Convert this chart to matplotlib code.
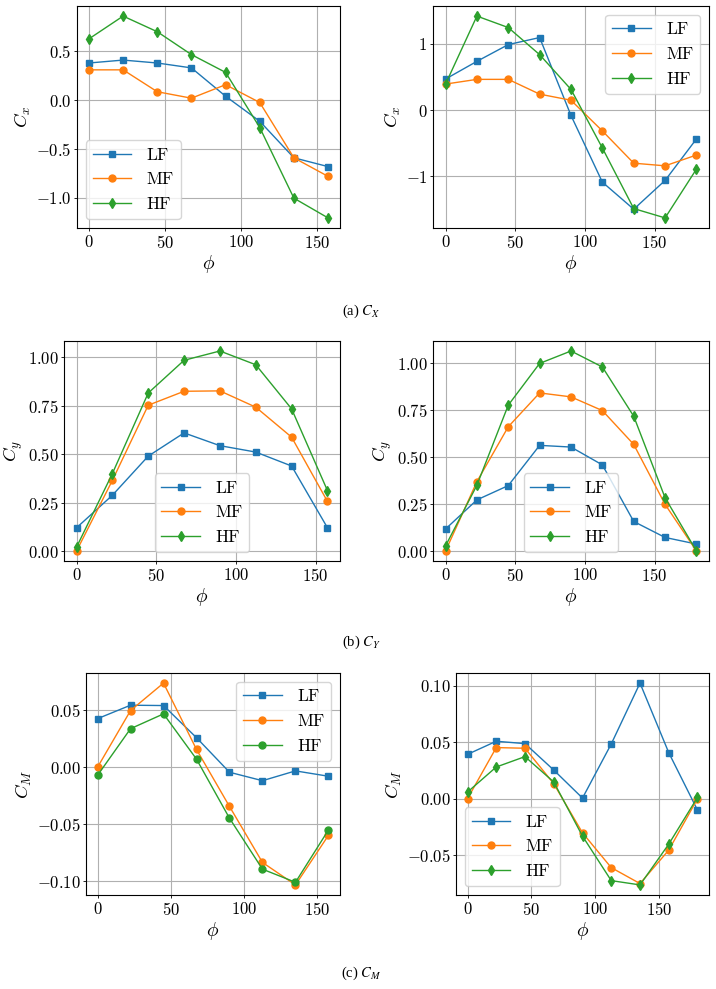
import matplotlib
matplotlib.use("Agg")
import matplotlib.pyplot as plt
from matplotlib.ticker import FuncFormatter, MultipleLocator

plt.rcParams['font.family'] = 'serif'
plt.rcParams['font.serif'] = ['cmr10']
plt.rcParams['mathtext.fontset'] = 'cm'
plt.rcParams['axes.formatter.use_mathtext'] = True
plt.rcParams['axes.unicode_minus'] = True

# ---------------- data ----------------
phi_8 = [0, 22.5, 45, 67.5, 90, 112.5, 135, 157.5]
phi_9 = [0, 22.5, 45, 67.5, 90, 112.5, 135, 157.5, 180]

cx_left_LF = [0.38, 0.41, 0.38, 0.33, 0.04, -0.216, -0.59, -0.68]
cx_left_MF = [0.31, 0.31, 0.086, 0.02, 0.158, -0.024, -0.59, -0.78]
cx_left_HF = [0.627, 0.86, 0.70, 0.466, 0.284, -0.28, -1.003, -1.205]

cx_right_LF = [0.47, 0.737, 0.99, 1.096, -0.08, -1.086, -1.495, -1.06, -0.434]
cx_right_MF = [0.394, 0.465, 0.465, 0.242, 0.15, -0.313, -0.80, -0.84, -0.677]
cx_right_HF = [0.394, 1.42, 1.247, 0.838, 0.313, -0.571, -1.485, -1.626, -0.889]

cy_left_LF = [0.12, 0.288, 0.49, 0.61, 0.544, 0.511, 0.439, 0.12]
cy_left_MF = [0.0, 0.365, 0.753, 0.825, 0.827, 0.743, 0.588, 0.256]
cy_left_HF = [0.02, 0.40, 0.816, 0.985, 1.033, 0.962, 0.734, 0.312]

cy_right_LF = [0.117, 0.272, 0.348, 0.562, 0.553, 0.458, 0.157, 0.072, 0.037]
cy_right_MF = [0.0, 0.369, 0.661, 0.841, 0.82, 0.747, 0.567, 0.248, 0.0]
cy_right_HF = [0.027, 0.35, 0.776, 0.998, 1.064, 0.979, 0.717, 0.283, 0.0]

cm_left_LF = [0.0426, 0.0544, 0.0541, 0.0259, -0.0044, -0.0118, -0.0032, -0.0079]
cm_left_MF = [0.0, 0.0497, 0.0738, 0.0156, -0.0344, -0.0835, -0.1032, -0.0597]
cm_left_HF = [-0.0071, 0.0338, 0.0468, 0.0071, -0.0447, -0.0894, -0.1009, -0.055]

cm_right_LF = [0.0393, 0.0509, 0.0488, 0.0254, 0.0006, 0.0485, 0.1024, 0.0408, -0.0101]
cm_right_MF = [0.0, 0.0453, 0.0447, 0.0133, -0.0302, -0.061, -0.0751, -0.0455, 0.0]
cm_right_HF = [0.0059, 0.0281, 0.0373, 0.0148, -0.0331, -0.0725, -0.0763, -0.0402, 0.0012]

series_labels = ['LF', 'MF', 'HF']
captions = [r'(a) $C_X$', r'(b) $C_Y$', r'(c) $C_M$']

# ---------------- figure ----------------
fig = plt.figure(figsize=(7.16, 9.89), dpi=100)
H = 989.0
W = 716.0


def pos(l, r, t, b):
    return [l / W, 1 - b / H, (r - l) / W, (b - t) / H]


panels = [
    dict(rect=pos(77, 340, 6, 228), x=phi_8, ys=[cx_left_LF, cx_left_MF, cx_left_HF],
         ylabel=r'$C_x$', loc='lower left', dec=1, hfm='d', ystep=None),
    dict(rect=pos(433, 709, 6, 228), x=phi_9, ys=[cx_right_LF, cx_right_MF, cx_right_HF],
         ylabel=r'$C_x$', loc='upper right', dec=0, hfm='d', ystep=None),
    dict(rect=pos(64, 340, 341, 561), x=phi_8, ys=[cy_left_LF, cy_left_MF, cy_left_HF],
         ylabel=r'$C_y$', loc='lower center', dec=2, hfm='d', ystep=0.25),
    dict(rect=pos(433, 709, 341, 561), x=phi_9, ys=[cy_right_LF, cy_right_MF, cy_right_HF],
         ylabel=r'$C_y$', loc='lower center', dec=2, hfm='d', ystep=0.25),
    dict(rect=pos(86, 340, 673, 895), x=phi_8, ys=[cm_left_LF, cm_left_MF, cm_left_HF],
         ylabel=r'$C_M$', loc='upper right', dec=2, hfm='o', ystep=None),
    dict(rect=pos(456, 709, 673, 895), x=phi_9, ys=[cm_right_LF, cm_right_MF, cm_right_HF],
         ylabel=r'$C_M$', loc='lower left', dec=2, hfm='d', ystep=None),
]

colors = ['#1f77b4', '#ff7f0e', '#2ca02c']


def make_fmt(dec):
    def f(v, p):
        v = round(v, dec) + 0.0
        return '$' + f'{v:.{dec}f}' + '$'
    return FuncFormatter(f)


for p in panels:
    ax = fig.add_axes(p['rect'])
    markers = ['s', 'o', p['hfm']]
    for y, lab, c, m in zip(p['ys'], series_labels, colors, markers):
        ms = 5 if m != 'd' else 5.5
        ax.plot(p['x'], y, color=c, marker=m, markersize=ms, lw=1.0, label=lab)
    ax.grid(True, color='#b0b0b0', lw=0.8)
    ax.set_axisbelow(True)
    if p['ystep']:
        ax.yaxis.set_major_locator(MultipleLocator(p['ystep']))
    ax.xaxis.set_major_locator(MultipleLocator(50))
    ax.set_xlabel(r'$\phi$', fontsize=14, labelpad=2)
    ax.set_ylabel(p['ylabel'], fontsize=13.5, labelpad=2)
    ax.xaxis.set_major_formatter(make_fmt(0))
    ax.yaxis.set_major_formatter(make_fmt(p['dec']))
    ax.tick_params(labelsize=12, length=2.5, width=0.6, pad=1.5)
    for s in ax.spines.values():
        s.set_linewidth(0.8)
    ax.legend(loc=p['loc'], fontsize=12.5, handlelength=2.2, handletextpad=0.9,
              labelspacing=0.55, framealpha=0.8)

cap_y = [1 - 311 / H, 1 - 642 / H, 1 - 973 / H]
for cy, txt in zip(cap_y, captions):
    fig.text(0.505, cy, txt, ha='center', va='center', fontsize=10.5,
             family='Liberation Serif', math_fontfamily='stix')

fig.savefig('out.png', dpi=100)
